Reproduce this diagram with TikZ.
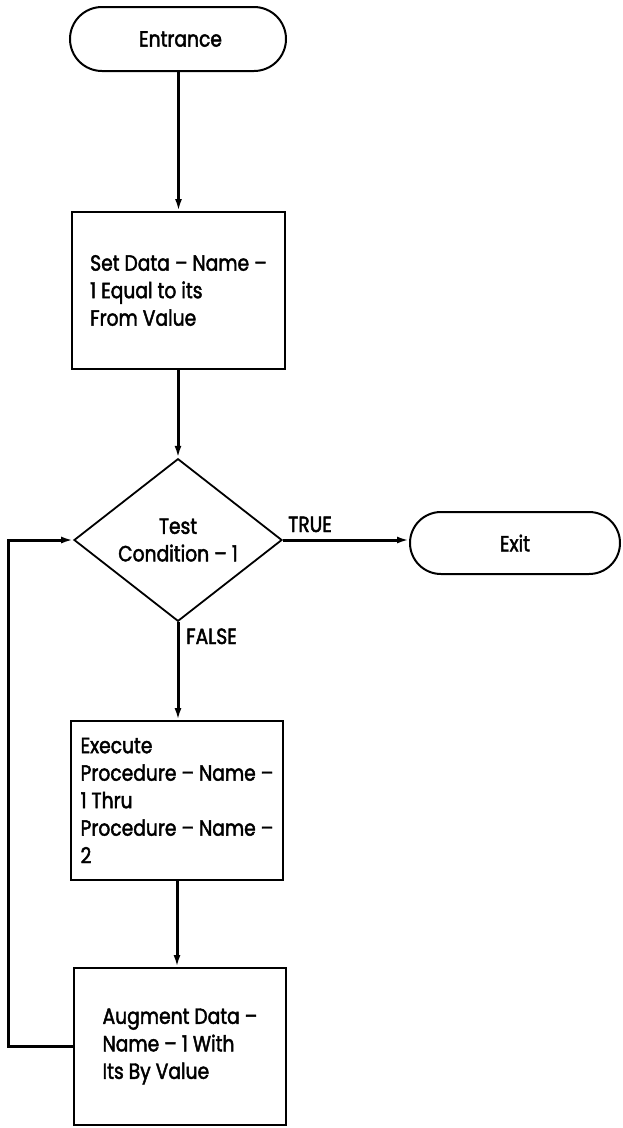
\documentclass[tikz,border=0pt]{standalone}
\usepackage{fontspec}
\setmainfont{Poppins}[FakeStretch=0.85,FakeBold=2]
\usetikzlibrary{shapes.geometric,shapes.misc,arrows.meta}
\begin{document}
\begin{tikzpicture}[x=1pt,y=-1pt,
  every node/.style={font=\fontsize{22}{27.5}\selectfont},
  terminal/.style={draw,line width=2pt,rounded rectangle,inner sep=0pt},
  procbox/.style={draw,line width=2pt,rectangle,align=left,inner sep=0pt},
  decision/.style={draw,line width=1.8pt,diamond,align=center,inner sep=0pt,
    minimum width=208,minimum height=154},
  flow/.style={line width=3pt,-{Latex[length=12pt,width=7pt]}},
  tag/.style={inner sep=0pt,anchor=base west}]
\useasboundingbox (0,0) rectangle (623,1128);
\fill[white] (0,0) rectangle (623,1128);

% terminals, process boxes and the decision
\node[terminal,minimum width=216,minimum height=64] (entr) at (178,39) {\hspace*{5pt}Entrance};
\node[procbox,minimum width=213,minimum height=157] (setd) at (178.5,290.5)
  {Set Data – Name –\\1 Equal to its\\From Value};
\node[decision] (test) at (178,540) {Test\\Condition – 1};
\node[terminal,minimum width=210,minimum height=62] (exitn) at (515,543) {Exit};
\node[procbox,minimum width=212,minimum height=159] (exec) at (177,800.5)
  {Execute\\Procedure – Name –\\1 Thru\\Procedure – Name –\\2};
\node[procbox,minimum width=212,minimum height=157] (aug) at (180,1046.5)
  {Augment Data –\\Name – 1 With\\Its By Value};

% branch labels
\node[tag] (tlab) at (288,532) {TRUE};
\node[tag] (flab) at (186,644) {FALSE};

% flow lines
\draw[flow] (entr.south -| setd.north) -- (setd.north);
\draw[flow] (setd.south -| test.north) -- (test.north);
\draw[flow] (test.east) -- (test.east -| exitn.west);
\draw[flow] (test.south) -- (test.south |- exec.north);
\draw[flow] (exec.south) -- (exec.south |- aug.north);
\draw[flow] (aug.west) -- ++(-65,0) |- (test.west);
\end{tikzpicture}
\end{document}
